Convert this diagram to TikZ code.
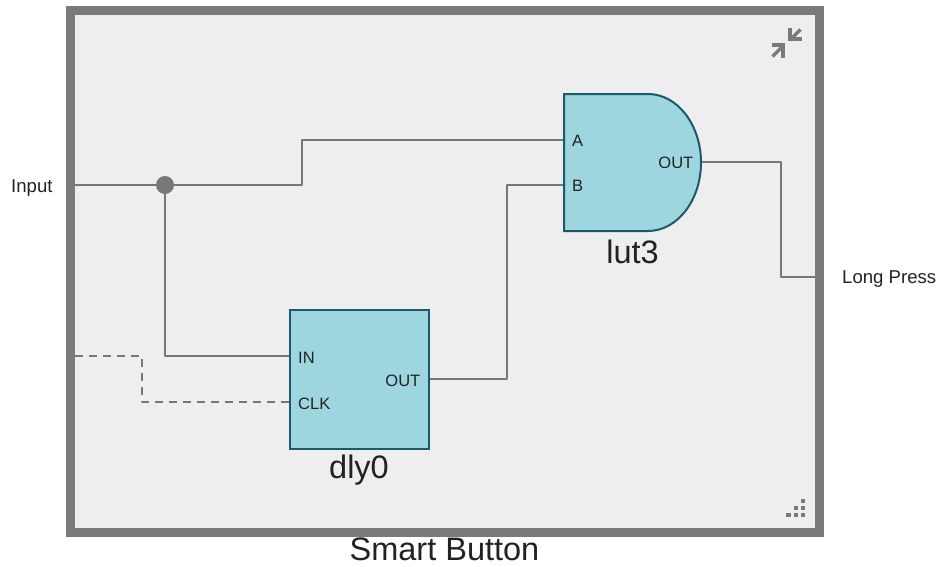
\documentclass[tikz,border=0pt]{standalone}
\usepackage{fontspec}
\setmainfont{Liberation Sans}
\definecolor{framegray}{HTML}{7A7A7A}
\definecolor{panelbg}{HTML}{EEEEEE}
\definecolor{wiregray}{HTML}{777777}
\definecolor{blockfill}{HTML}{9ED6E0}
\definecolor{blockline}{HTML}{1B5A6C}
\definecolor{inktext}{HTML}{222222}
\tikzset{
  panel/.style={draw=framegray,fill=panelbg,line width=9pt,minimum width=749.5pt,minimum height=522pt,inner sep=0pt,outer sep=0pt},
  blockbox/.style={draw=blockline,fill=blockfill,line width=2pt,minimum width=139pt,minimum height=139pt,inner sep=0pt,outer sep=0pt},
  blockshape/.style={draw=blockline,fill=blockfill,line width=2pt},
  wire/.style={draw=wiregray,line width=2.4pt,line join=round},
  dashwire/.style={wire,dash pattern=on 8pt off 6pt},
  port/.style={font=\fontsize{16.5}{18}\selectfont,text=inktext,inner sep=0pt},
  side/.style={font=\fontsize{18.6}{20}\selectfont,text=inktext,inner sep=0pt},
  blockname/.style={font=\fontsize{32.5}{34}\selectfont,text=inktext,inner sep=0pt},
  titletext/.style={font=\fontsize{32.5}{34}\selectfont,text=inktext,inner sep=0pt},
  junction/.style={circle,fill=wiregray,minimum size=18pt,inner sep=0pt,outer sep=0pt},
  iconcorner/.style={draw=framegray,line width=4pt,miter limit=10},
  icontail/.style={draw=framegray,line width=3.5pt},
  grip/.style={fill=framegray,minimum size=4.5pt,inner sep=0pt,outer sep=0pt}
}
\begin{document}
\begin{tikzpicture}[x=1pt,y=-1pt]
\useasboundingbox (0,0) rectangle (938,566);
\node[panel] (frame) at (444.75,271) {};

% coordinates
\coordinate (inL) at (75,185);
\coordinate (inB) at (302,185);
\coordinate (inT) at (302,140);
\coordinate (lutA) at (564,140);
\coordinate (lutB) at (564,185);
\coordinate (lutO) at (701,162);
\coordinate (outM) at (781,162);
\coordinate (outN) at (781,277);
\coordinate (outR) at (816,277);
\coordinate (dlyIn) at (290,356);
\coordinate (dlyClk) at (290,402);
\coordinate (dlyOut) at (429,379);
\coordinate (midT) at (507,185);
\coordinate (midB) at (507,379);
\coordinate (dashL) at (75,356);
\coordinate (dashA) at (142,356);
\coordinate (dashB) at (142,402);

\node[junction] (dot) at (165,185) {};
\coordinate (inCorner) at (165,356);

% wires
\draw[wire] (inL) -- (dot.center) -- (inB) -- (inT) -- (lutA);
\draw[wire] (dot.center) -- (inCorner) -- (dlyIn);
\draw[wire] (dlyOut) -- (midB) -- (midT) -- (lutB);
\draw[wire] (lutO) -- (outM) -- (outN) -- (outR);
\draw[dashwire] (dashL) -- (dashA) -- (dashB) -- (dlyClk);

% blocks
\node[blockbox] (dly) at (359.5,379.5) {};
\draw[blockshape] (564,94) -- (648,94)
  .. controls (677.3,94) and (701,124.7) .. (701,162.5)
  .. controls (701,200.3) and (677.3,231) .. (648,231)
  -- (564,231) -- cycle;

% labels
\node[port,anchor=west] (pA) at (572,141) {A};
\node[port,anchor=west] (pB) at (572,186) {B};
\node[port,anchor=east] (pO) at (693.5,163) {OUT};
\node[port,anchor=west] (pIn) at (298,358) {IN};
\node[port,anchor=west] (pClk) at (298,404) {CLK};
\node[port,anchor=east] (pOut) at (420.5,381) {OUT};
\node[blockname] (nLut) at (632.5,252) {lut3};
\node[blockname] (nDly) at (359,470) {dly0};
\node[side,anchor=west] (lblIn) at (11,188.5) {Input};
\node[side,anchor=west] (lblOut) at (842,279.5) {Long Press};
\node[titletext] (title) at (444.5,549) {Smart Button};

% collapse icon
\draw[iconcorner] (790,28) -- (790,39) -- (802,39);
\draw[icontail] (800.5,29.5) -- (790,40);
\draw[iconcorner] (771.5,45) -- (783,45) -- (783,57.5);
\draw[icontail] (772.5,56.5) -- (783,46);

% grip
\foreach \gx/\gy in {803/501,796/508,803/508,788.5/515,796/515,803/515}
  \node[grip] at (\gx,\gy) {};
\end{tikzpicture}
\end{document}
